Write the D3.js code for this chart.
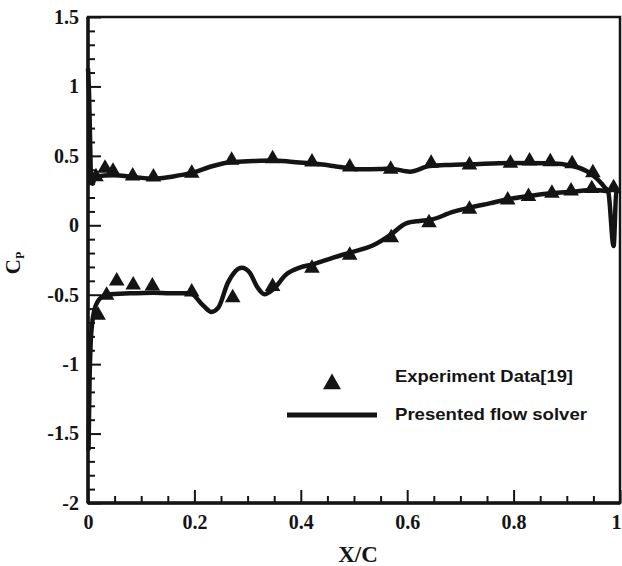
<!DOCTYPE html>
<html>
<head>
<meta charset="utf-8">
<script src="https://cdn.jsdelivr.net/npm/d3@7/dist/d3.min.js"></script>
<style>
  body { margin: 0; background: #fff; }
  svg { display: block; }
</style>
</head>
<body>
<svg id="chart" width="622" height="566"></svg>
<script>
// experiment data, upper branch (higher Cp)
var expUpperX = [0.015, 0.032, 0.047, 0.084, 0.123, 0.195, 0.27, 0.347, 0.421, 0.492, 0.569, 0.645, 0.717, 0.794, 0.83, 0.869, 0.91, 0.949, 0.988];
var expUpperCp = [0.35, 0.41, 0.39, 0.355, 0.348, 0.374, 0.468, 0.48, 0.456, 0.42, 0.403, 0.446, 0.434, 0.446, 0.463, 0.458, 0.444, 0.379, 0.27];
// experiment data, lower branch
var expLowerX = [0.019, 0.035, 0.054, 0.085, 0.121, 0.195, 0.272, 0.347, 0.421, 0.492, 0.57, 0.641, 0.717, 0.789, 0.828, 0.872, 0.908, 0.947];
var expLowerCp = [-0.648, -0.504, -0.401, -0.43, -0.437, -0.48, -0.521, -0.441, -0.31, -0.216, -0.089, 0.019, 0.115, 0.182, 0.207, 0.23, 0.247, 0.264];

// solver curve, upper branch
var solUpperX = [0, 0.002, 0.004, 0.006, 0.009, 0.013, 0.048, 0.085, 0.123, 0.16, 0.195, 0.235, 0.27, 0.31, 0.347, 0.386, 0.421, 0.461, 0.492, 0.511, 0.55, 0.569, 0.605, 0.642, 0.68, 0.717, 0.794, 0.868, 0.911, 0.937, 0.958, 0.972, 0.978, 0.988, 0.993, 0.998];
var solUpperCp = [1.13, 0.95, 0.6, 0.31, 0.3, 0.35, 0.36, 0.348, 0.336, 0.352, 0.377, 0.427, 0.455, 0.463, 0.467, 0.456, 0.446, 0.427, 0.41, 0.403, 0.405, 0.408, 0.386, 0.427, 0.435, 0.439, 0.449, 0.446, 0.427, 0.391, 0.331, 0.27, 0.24, -0.15, 0.235, 0.25];
// solver curve, lower branch
var solLowerX = [0.001, 0.003, 0.005, 0.008, 0.012, 0.018, 0.026, 0.035, 0.079, 0.123, 0.154, 0.192, 0.217, 0.232, 0.245, 0.263, 0.289, 0.304, 0.317, 0.332, 0.348, 0.373, 0.398, 0.423, 0.461, 0.492, 0.536, 0.57, 0.598, 0.623, 0.642, 0.686, 0.717, 0.755, 0.789, 0.83, 0.871, 0.911, 0.949, 0.978];
var solLowerCp = [-1.62, -1.1, -0.85, -0.7, -0.61, -0.55, -0.515, -0.5, -0.49, -0.485, -0.49, -0.49, -0.58, -0.624, -0.593, -0.413, -0.305, -0.341, -0.437, -0.497, -0.461, -0.353, -0.305, -0.281, -0.233, -0.197, -0.144, -0.065, 0.014, 0.031, 0.038, 0.096, 0.127, 0.158, 0.187, 0.211, 0.23, 0.242, 0.254, 0.245];

var xTicks = [0, 0.2, 0.4, 0.6, 0.8, 1];
var xTickLabels = ['0', '0.2', '0.4', '0.6', '0.8', '1'];
var yTicks = [-2, -1.5, -1, -0.5, 0, 0.5, 1, 1.5];
var yTickLabels = ['-2', '-1.5', '-1', '-0.5', '0', '0.5', '1', '1.5'];

var legendLabels = ['Experiment Data[19]', 'Presented flow solver'];

var ink = '#141414';
var svg = d3.select('#chart');

var x = d3.scaleLinear().domain([0, 1]).range([88, 620]);
var y = d3.scaleLinear().domain([-2, 1.5]).range([503, 17]);

var serif = '"Liberation Serif", "Times New Roman", serif';
var sans = '"Liberation Sans", Arial, sans-serif';

// minor ticks
var xMinor = d3.range(0, 1.0001, 0.05).filter(function(v){ return Math.abs(v*5 - Math.round(v*5)) > 1e-6; });
var yMinor = d3.range(-2, 1.5001, 0.1).filter(function(v){ return Math.abs(v*2 - Math.round(v*2)) > 1e-6; });

svg.append('g')
  .attr('transform', 'translate(0,' + y(-2) + ')')
  .call(d3.axisBottom(x).tickValues(xMinor).tickSize(-7).tickFormat(''))
  .call(function(g){ g.select('.domain').remove(); });

svg.append('g')
  .attr('transform', 'translate(' + x(0) + ',0)')
  .call(d3.axisLeft(y).tickValues(yMinor).tickSize(-7).tickFormat(''))
  .call(function(g){ g.select('.domain').remove(); });

// major ticks with labels
var xAxis = svg.append('g')
  .attr('transform', 'translate(0,' + y(-2) + ')')
  .call(d3.axisBottom(x).tickValues(xTicks).tickSize(-13).tickPadding(12)
    .tickFormat(function(d, i){ return xTickLabels[i]; }));
xAxis.select('.domain').remove();
// last label sits on the right edge of the page
xAxis.selectAll('.tick text').filter(function(d){ return d === 1; }).attr('dx', -4);

var yAxis = svg.append('g')
  .attr('transform', 'translate(' + x(0) + ',0)')
  .call(d3.axisLeft(y).tickValues(yTicks).tickSize(-13).tickPadding(9)
    .tickFormat(function(d, i){ return yTickLabels[i]; }));
yAxis.select('.domain').remove();

svg.selectAll('.tick line').attr('stroke', ink).attr('stroke-width', 2);
svg.selectAll('.tick text')
  .attr('fill', ink)
  .style('font-family', serif)
  .style('font-weight', 'bold')
  .style('font-size', '20px');

// frame
svg.append('rect')
  .attr('x', x(0)).attr('y', y(1.5))
  .attr('width', x(1) - x(0)).attr('height', y(-2) - y(1.5))
  .attr('fill', 'none').attr('stroke', ink).attr('stroke-width', 2.5);
svg.append('line')
  .attr('x1', x(0)).attr('x2', x(0)).attr('y1', y(1.5)).attr('y2', y(-2))
  .attr('stroke', ink).attr('stroke-width', 3.5);
svg.append('line')
  .attr('x1', x(0)).attr('x2', x(1)).attr('y1', y(-2)).attr('y2', y(-2))
  .attr('stroke', ink).attr('stroke-width', 3.5);

// solver lines
var lineGen = d3.line()
  .x(function(d){ return x(d[0]); })
  .y(function(d){ return y(d[1]); })
  .curve(d3.curveMonotoneX);

var plot = svg.append('g');
[[solUpperX, solUpperCp], [solLowerX, solLowerCp]].forEach(function(s){
  plot.append('path')
    .datum(d3.zip(s[0], s[1]))
    .attr('d', lineGen)
    .attr('fill', 'none')
    .attr('stroke', ink)
    .attr('stroke-width', 4.5)
    .attr('stroke-linejoin', 'round');
});

// experiment triangles
var tri = d3.symbol().type(d3.symbolTriangle).size(105);
var expPts = d3.zip(expUpperX, expUpperCp).concat(d3.zip(expLowerX, expLowerCp));
plot.selectAll('.exp')
  .data(expPts)
  .enter()
  .append('path')
  .attr('class', 'exp')
  .attr('d', tri)
  .attr('transform', function(d){ return 'translate(' + x(d[0]) + ',' + y(d[1]) + ')'; })
  .attr('fill', ink);

// legend
svg.append('path')
  .attr('d', d3.symbol().type(d3.symbolTriangle).size(140))
  .attr('transform', 'translate(332,384)')
  .attr('fill', ink);
svg.append('line')
  .attr('x1', 287).attr('x2', 377).attr('y1', 415).attr('y2', 415)
  .attr('stroke', ink).attr('stroke-width', 5);

var legendText = svg.append('g')
  .style('font-family', sans)
  .style('font-weight', 'bold')
  .style('font-size', '17px')
  .attr('fill', ink);
legendText.append('text').attr('x', 395).attr('y', 382)
  .attr('textLength', 178).attr('lengthAdjust', 'spacingAndGlyphs')
  .text(legendLabels[0]);
legendText.append('text').attr('x', 395).attr('y', 420)
  .attr('textLength', 192).attr('lengthAdjust', 'spacingAndGlyphs')
  .text(legendLabels[1]);

// axis titles
svg.append('text')
  .attr('x', 358).attr('y', 562)
  .attr('text-anchor', 'middle')
  .style('font-family', serif).style('font-weight', 'bold').style('font-size', '23px')
  .attr('fill', ink)
  .text('X/C');

var cp = svg.append('text')
  .attr('transform', 'translate(20,263) rotate(-90)')
  .attr('text-anchor', 'middle')
  .style('font-family', serif).style('font-weight', 'bold')
  .attr('fill', ink);
cp.append('tspan').style('font-size', '21px').text('C');
cp.append('tspan').style('font-size', '12px').attr('dy', 4).text('P');
</script>
</body>
</html>
